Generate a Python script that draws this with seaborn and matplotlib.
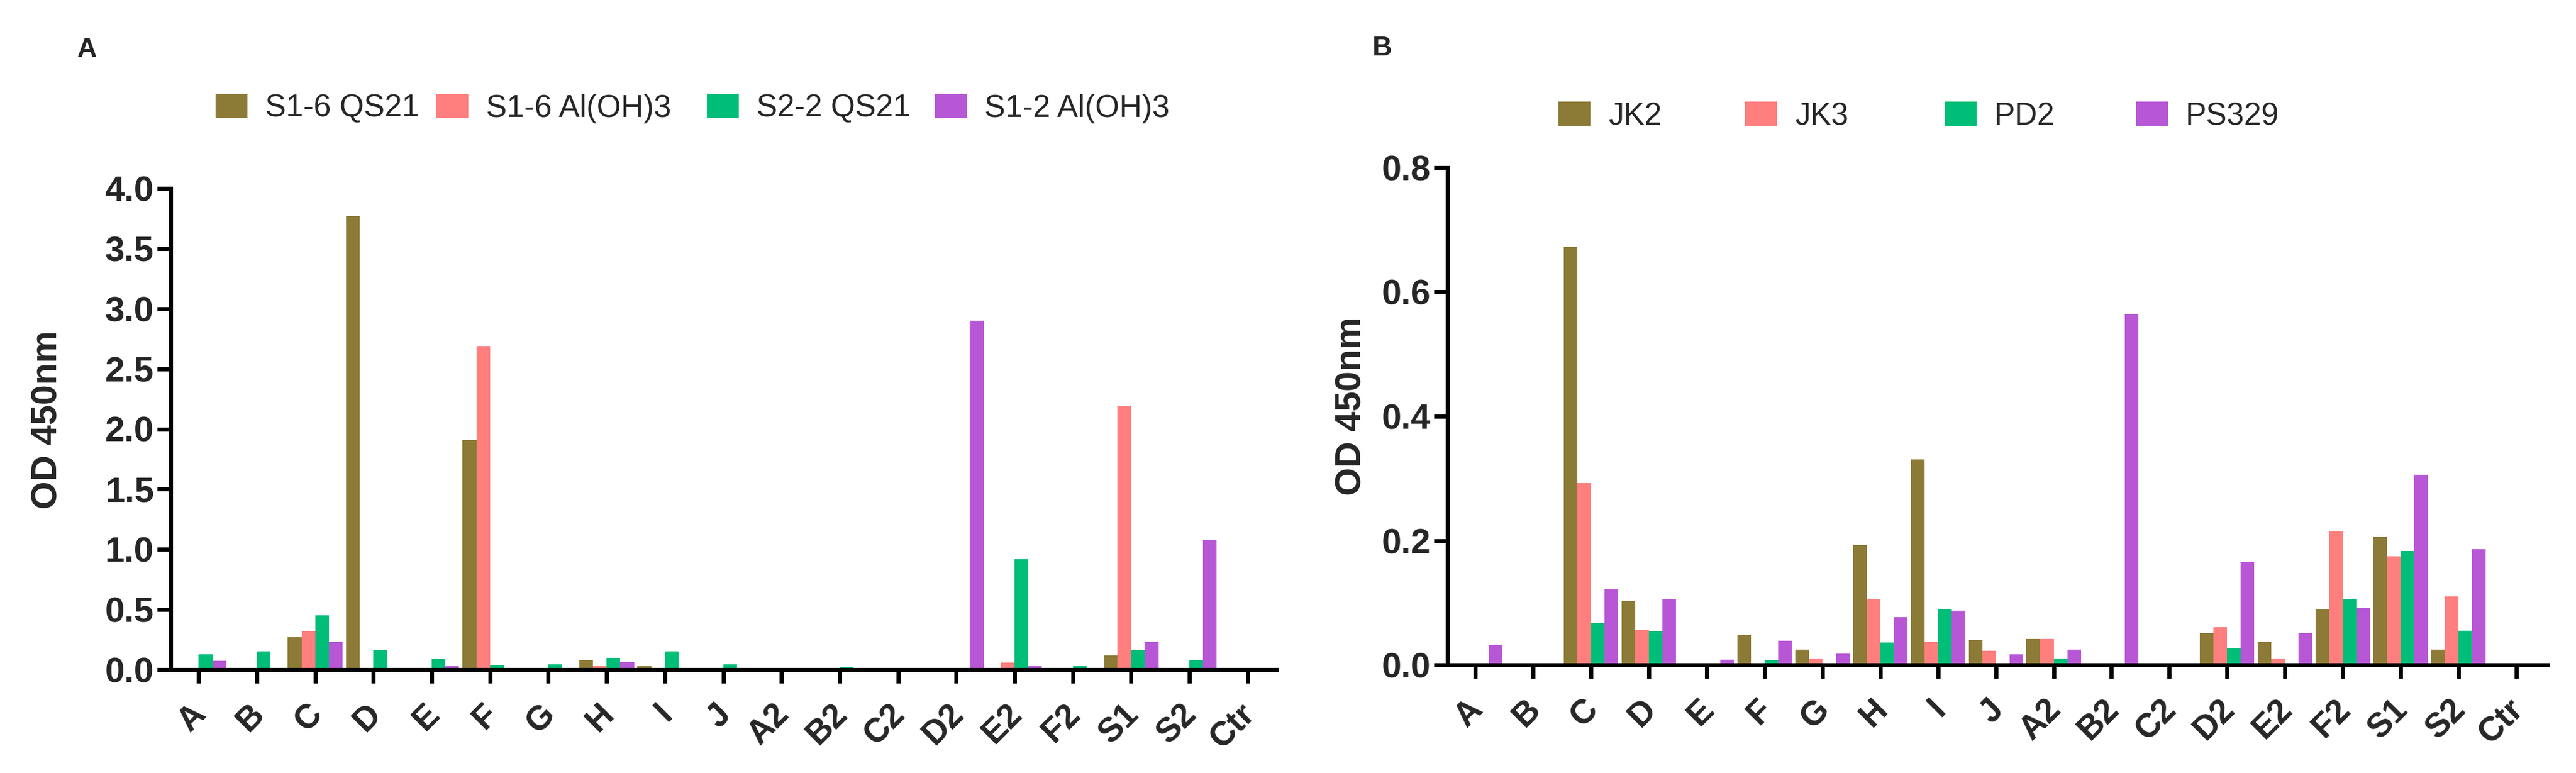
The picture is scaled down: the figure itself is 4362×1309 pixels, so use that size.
import matplotlib
matplotlib.use("Agg")
import matplotlib.pyplot as plt
import matplotlib.transforms as mtransforms
from matplotlib.patches import Patch
from matplotlib.ticker import FormatStrFormatter, MultipleLocator
import pandas as pd
import seaborn as sns

sns.set_style('white')
plt.rcParams['font.family'] = ['Liberation Sans', 'DejaVu Sans']

# ---- data ----
cats = ['A', 'B', 'C', 'D', 'E', 'F', 'G', 'H', 'I', 'J',
        'A2', 'B2', 'C2', 'D2', 'E2', 'F2', 'S1', 'S2', 'Ctr']

series_a = ['S1-6 QS21', 'S1-6 Al(OH)3', 'S2-2 QS21', 'S1-2 Al(OH)3']
s16_qs21 = [0, 0, 0.27, 3.77, 0, 1.91, 0, 0.08, 0.03, 0.01,
            0, 0, 0, 0, 0, 0, 0.12, 0.01, 0]
s16_aloh = [0, 0, 0.32, 0, 0, 2.69, 0, 0.03, 0, 0.01,
            0, 0, 0, 0, 0.06, 0, 2.19, 0.01, 0]
s22_qs21 = [0.13, 0.15, 0.45, 0.16, 0.09, 0.04, 0.045, 0.10, 0.15, 0.045,
            0, 0.02, 0, 0, 0.92, 0.03, 0.16, 0.08, 0]
s12_aloh = [0.075, 0, 0.23, 0, 0.03, 0, 0, 0.065, 0.01, 0,
            0, 0, 0, 2.90, 0.03, 0.01, 0.23, 1.08, 0]

series_b = ['JK2', 'JK3', 'PD2', 'PS329']
jk2 = [0.002, 0, 0.673, 0.103, 0, 0.048, 0.025, 0.193, 0.331, 0.04,
       0.042, 0, 0, 0.051, 0.037, 0.09, 0.206, 0.025, 0]
jk3 = [0, 0, 0.293, 0.056, 0, 0, 0.01, 0.106, 0.037, 0.023,
       0.042, 0, 0, 0.061, 0.01, 0.215, 0.175, 0.11, 0]
pd2 = [0, 0, 0.067, 0.054, 0, 0.008, 0, 0.036, 0.09, 0,
       0.01, 0, 0, 0.027, 0, 0.105, 0.183, 0.055, 0]
ps329 = [0.032, 0, 0.122, 0.105, 0.009, 0.039, 0.018, 0.077, 0.087, 0.017,
         0.025, 0.564, 0, 0.165, 0.051, 0.092, 0.306, 0.186, 0]

colors = ['#8C7B37', '#FF7F7E', '#00BE77', '#B857D6']

W, H = 4362, 1309


def long_df(names, cols):
    rows = []
    for name, vals in zip(names, cols):
        for c, v in zip(cats, vals):
            rows.append({'cat': c, 'val': v, 'series': name})
    return pd.DataFrame(rows)


def draw_panel(ax, df, names, ymax, ystep, xlim):
    sns.barplot(data=df, x='cat', y='val', hue='series', order=cats,
                hue_order=names, palette=colors, width=0.94, gap=0,
                saturation=1, linewidth=0, errorbar=None, legend=False, ax=ax)
    ax.set_xlim(*xlim)
    ax.set_ylim(0, ymax)
    ax.yaxis.set_major_locator(MultipleLocator(ystep))
    ax.yaxis.set_major_formatter(FormatStrFormatter('%.1f'))
    sns.despine(ax=ax)
    for s in ['left', 'bottom']:
        ax.spines[s].set_linewidth(5)
        ax.spines[s].set_color('black')
    ax.tick_params(axis='both', direction='out', length=16.5, width=5,
                   color='black', left=True, bottom=True)
    ax.tick_params(axis='y', labelsize=43, pad=4)
    ax.tick_params(axis='x', labelsize=41, pad=32)
    for lab in ax.get_yticklabels():
        lab.set_fontweight('bold')
    offset = mtransforms.ScaledTranslation(4 / 100, 0, ax.figure.dpi_scale_trans)
    for lab in ax.get_xticklabels():
        lab.set_fontweight('bold')
        lab.set_rotation(45)
        lab.set_ha('right')
        lab.set_va('center')
        lab.set_rotation_mode('anchor')
        lab.set_transform(lab.get_transform() + offset)
    ax.set_xlabel('')
    ax.set_ylabel('OD 450nm', fontsize=44, fontweight='bold')


def add_legend(fig, names, xs, y):
    for name, col, x in zip(names, colors, xs):
        fig.legend(handles=[Patch(facecolor=col, edgecolor='none')], labels=[name],
                   loc='center left', bbox_to_anchor=(x / W, 1 - y / H),
                   frameon=False, fontsize=38, handlelength=1.02,
                   handleheight=0.81, handletextpad=0.57, borderpad=0,
                   borderaxespad=0)


fig = plt.figure(figsize=(W / 100, H / 100), dpi=100)
ax_a = fig.add_axes([289 / W, 1 - 1134 / H, (2162 - 289) / W, (1134 - 319) / H])
ax_b = fig.add_axes([2451 / W, 1 - 1126 / H, (4314 - 2451) / W, (1126 - 284) / H])

draw_panel(ax_a, long_df(series_a, [s16_qs21, s16_aloh, s22_qs21, s12_aloh]),
           series_a, 4.0, 0.5, (-0.48, 18.5))
draw_panel(ax_b, long_df(series_b, [jk2, jk3, pd2, ps329]),
           series_b, 0.8, 0.2, (-0.48, 18.54))
ax_a.yaxis.set_label_coords(-0.096, 0.519)
ax_b.yaxis.set_label_coords(-0.0714, 0.52)

add_legend(fig, series_a, [365, 739, 1197, 1583], 184)
add_legend(fig, series_b, [2639, 2955, 3293, 3617], 197)

fig.text(131 / W, 1 - 96 / H, 'A', fontsize=33, fontweight='bold', ha='left', va='baseline')
fig.text(2324 / W, 1 - 94 / H, 'B', fontsize=33, fontweight='bold', ha='left', va='baseline')

fig.savefig('out.png', dpi=100, facecolor='white')
